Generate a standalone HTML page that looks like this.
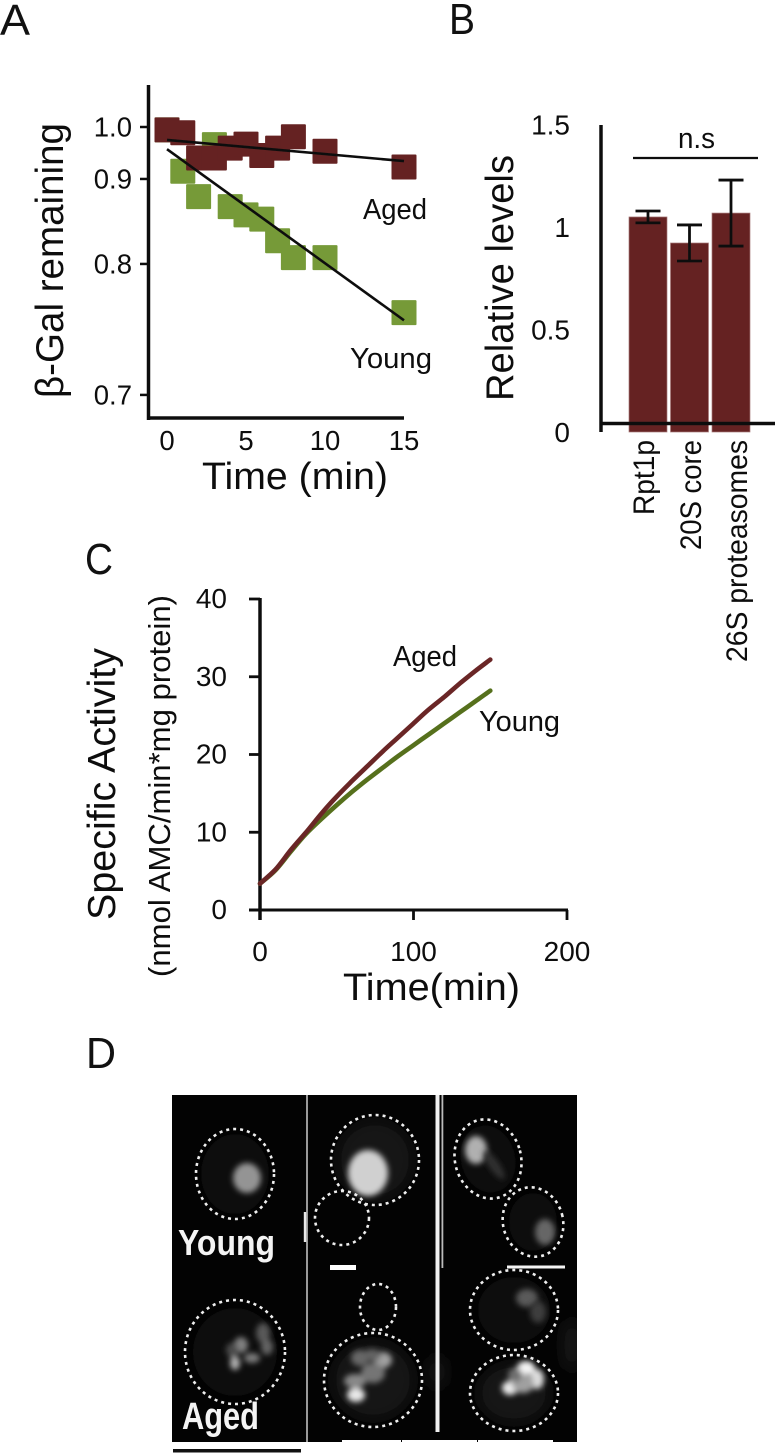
<!DOCTYPE html>
<html lang="en">
<head>
<meta charset="utf-8">
<title>Proteasome figure</title>
<style>
html,body{margin:0;padding:0;background:#fff;width:777px;height:1455px;overflow:hidden}
svg{display:block;position:absolute;left:0;top:0}
text{font-family:"Liberation Sans",sans-serif;fill:#111}
</style>
</head>
<body>
<svg id="figure" width="777" height="1455" viewBox="0 0 777 1455" xmlns="http://www.w3.org/2000/svg">
<defs>
<filter id="b1" x="-100%" y="-100%" width="300%" height="300%"><feGaussianBlur stdDeviation="3"/></filter>
<filter id="b2" x="-50%" y="-50%" width="200%" height="200%"><feGaussianBlur stdDeviation="6"/></filter>
<filter id="b3" x="-150%" y="-100%" width="400%" height="300%"><feGaussianBlur stdDeviation="8"/></filter>
<filter id="soft" x="-5%" y="-5%" width="110%" height="110%"><feGaussianBlur stdDeviation="0.35"/></filter>
<clipPath id="imageClip"><rect x="172" y="1095" width="405" height="347"/></clipPath>
</defs>

<g font-size="44">
<text x="0" y="35" textLength="30" lengthAdjust="spacingAndGlyphs">A</text>
<text x="449" y="34" textLength="26" lengthAdjust="spacingAndGlyphs">B</text>
<text x="85" y="574" textLength="28" lengthAdjust="spacingAndGlyphs">C</text>
<text x="86" y="1068" textLength="30" lengthAdjust="spacingAndGlyphs">D</text>
</g>

<g id="chartA" filter="url(#soft)">
<text transform="translate(63,398) rotate(-90)" font-size="39" textLength="275" lengthAdjust="spacingAndGlyphs">β-Gal remaining</text>
<text x="202" y="489" font-size="38" textLength="186" lengthAdjust="spacingAndGlyphs">Time (min)</text>
<text x="363" y="219" font-size="29" textLength="64" lengthAdjust="spacingAndGlyphs">Aged</text>
<text x="350" y="368" font-size="29" textLength="82" lengthAdjust="spacingAndGlyphs">Young</text>
</g>

<g id="chartB" filter="url(#soft)">
<text transform="translate(513,401) rotate(-90)" font-size="39" textLength="246" lengthAdjust="spacingAndGlyphs">Relative levels</text>
<text x="678" y="148" font-size="29" textLength="37" lengthAdjust="spacingAndGlyphs">n.s</text>
<line x1="633" x2="758" y1="158" y2="158" stroke="#111" stroke-width="2.2"/>
</g>

<g id="chartC" filter="url(#soft)">
<text transform="translate(115,920) rotate(-90)" font-size="39" textLength="272" lengthAdjust="spacingAndGlyphs">Specific Activity</text>
<text transform="translate(170,977) rotate(-90)" font-size="31" textLength="382" lengthAdjust="spacingAndGlyphs">(nmol AMC/min*mg protein)</text>
<text x="343" y="1000" font-size="38" textLength="177" lengthAdjust="spacingAndGlyphs">Time(min)</text>
<text x="393" y="666" font-size="29" textLength="64" lengthAdjust="spacingAndGlyphs">Aged</text>
<text x="479" y="731" font-size="29" textLength="81" lengthAdjust="spacingAndGlyphs">Young</text>
</g>

<g id="panelD">
<rect x="172" y="1095" width="405" height="347" fill="#030303"/>
<g clip-path="url(#imageClip)">
<ellipse cx="572" cy="1345" rx="8" ry="26" fill="#1c1c1c" filter="url(#b3)"/>
<ellipse cx="437" cy="1372" rx="5" ry="16" fill="#262626" filter="url(#b3)"/>
</g>

<g>
<ellipse cx="235" cy="1174" rx="34" ry="40" fill="#0a0a0a" filter="url(#b2)"/>
<ellipse cx="247" cy="1178" rx="14" ry="15" fill="#949494" filter="url(#b1)"/>
<ellipse cx="235" cy="1174" rx="39" ry="45" fill="none" stroke="#eee" stroke-width="2.6" stroke-dasharray="3 4"/>
</g>
<g>
<ellipse cx="375" cy="1160" rx="38" ry="39" fill="#151515" filter="url(#b2)"/>
<ellipse cx="368" cy="1173" rx="20" ry="23" fill="#d0d0d0" filter="url(#b1)"/>
<ellipse cx="375" cy="1160" rx="44" ry="45" fill="none" stroke="#eee" stroke-width="2.6" stroke-dasharray="3 4"/>
</g>
<g>
<ellipse cx="342" cy="1218" rx="27" ry="27" fill="none" stroke="#eee" stroke-width="2.6" stroke-dasharray="3 4"/>
</g>
<g>
<ellipse cx="488" cy="1159" rx="27" ry="34" transform="rotate(-15 488 1159)" fill="#0e0e0e" filter="url(#b2)"/>
<ellipse cx="476" cy="1150" rx="11" ry="14" fill="#b0b0b0" filter="url(#b1)"/>
<ellipse cx="494" cy="1165" rx="5" ry="17" transform="rotate(-35 494 1165)" fill="#303030" filter="url(#b1)"/>
<ellipse cx="488" cy="1159" rx="33" ry="40" transform="rotate(-15 488 1159)" fill="none" stroke="#eee" stroke-width="2.6" stroke-dasharray="3 4"/>
</g>
<g>
<ellipse cx="533" cy="1222" rx="24" ry="29" fill="#0a0a0a" filter="url(#b2)"/>
<ellipse cx="545" cy="1232" rx="10" ry="13" fill="#666" filter="url(#b1)"/>
<ellipse cx="533" cy="1222" rx="30" ry="35" transform="rotate(-15 533 1222)" fill="none" stroke="#eee" stroke-width="2.6" stroke-dasharray="3 4"/>
</g>

<g>
<ellipse cx="235" cy="1352" rx="42" ry="44" fill="#0c0c0c" filter="url(#b2)"/>
<g filter="url(#b1)">
<ellipse cx="241" cy="1345" rx="7" ry="8" fill="#808080"/>
<ellipse cx="235" cy="1363" rx="5" ry="7" fill="#b0b0b0"/>
<ellipse cx="263" cy="1333" rx="7" ry="10" fill="#585858"/>
<ellipse cx="267" cy="1347" rx="6" ry="8" fill="#646464"/>
<ellipse cx="252" cy="1358" rx="8" ry="5" fill="#7c7c7c"/>
<ellipse cx="232" cy="1350" rx="6" ry="7" fill="#4c4c4c"/>
</g>
<ellipse cx="235" cy="1352" rx="50" ry="52" fill="none" stroke="#eee" stroke-width="2.6" stroke-dasharray="3 4"/>
</g>
<g>
<ellipse cx="378" cy="1307" rx="18" ry="23" fill="none" stroke="#eee" stroke-width="2.6" stroke-dasharray="3 4"/>
</g>
<g>
<ellipse cx="373" cy="1380" rx="41" ry="39" fill="#141414" filter="url(#b2)"/>
<g filter="url(#b1)">
<ellipse cx="356" cy="1395" rx="9" ry="7" fill="#e8e8e8"/>
<ellipse cx="383" cy="1360" rx="9" ry="8" fill="#a0a0a0"/>
<ellipse cx="360" cy="1358" rx="9" ry="8" fill="#686868"/>
<ellipse cx="355" cy="1381" rx="11" ry="7" fill="#888"/>
<ellipse cx="373" cy="1373" rx="12" ry="10" fill="#747474"/>
<ellipse cx="372" cy="1355" rx="9" ry="6" fill="#646464"/>
</g>
<ellipse cx="373" cy="1380" rx="49" ry="47" fill="none" stroke="#eee" stroke-width="2.6" stroke-dasharray="3 4"/>
</g>
<g>
<ellipse cx="514" cy="1310" rx="36" ry="33" fill="#0c0c0c" filter="url(#b2)"/>
<ellipse cx="527" cy="1298" rx="11" ry="9" fill="#5a5a5a" filter="url(#b1)"/>
<ellipse cx="538" cy="1312" rx="8" ry="11" fill="#3e3e3e" filter="url(#b1)"/>
<ellipse cx="514" cy="1310" rx="44" ry="40" fill="none" stroke="#eee" stroke-width="2.6" stroke-dasharray="3 4"/>
</g>
<g>
<ellipse cx="514" cy="1393" rx="36" ry="30" fill="#121212" filter="url(#b2)"/>
<g filter="url(#b1)">
<ellipse cx="526" cy="1368" rx="9" ry="7" fill="#f4f4f4"/>
<ellipse cx="510" cy="1388" rx="8" ry="7" fill="#ececec"/>
<ellipse cx="537" cy="1379" rx="7" ry="10" fill="#dcdcdc"/>
<ellipse cx="523" cy="1384" rx="11" ry="9" fill="#a0a0a0"/>
<ellipse cx="515" cy="1375" rx="7" ry="7" fill="#707070"/>
</g>
<ellipse cx="514" cy="1393" rx="44" ry="38" fill="none" stroke="#eee" stroke-width="2.6" stroke-dasharray="3 4"/>
</g>

<text x="178" y="1255" font-size="36" font-weight="bold" style="fill:#f4f4f4" textLength="97" lengthAdjust="spacingAndGlyphs">Young</text>
<text x="182" y="1429" font-size="38" font-weight="bold" style="fill:#f4f4f4" textLength="77" lengthAdjust="spacingAndGlyphs">Aged</text>

<g>
<rect x="306.2" y="1095" width="1.6" height="347" fill="#c0c0c0"/>
<rect x="303.8" y="1212" width="2.4" height="30" fill="#e8e8e8"/>
<rect x="435.5" y="1095" width="4" height="337" fill="#f0f0f0"/>
<rect x="441.5" y="1095" width="1.8" height="173" fill="#bbb"/>
</g>
<g>
<rect x="330" y="1265" width="26" height="5" fill="#fff"/>
<rect x="507" y="1265.500" width="58" height="3" fill="#f4f4f4"/>
<rect x="173" y="1449" width="128" height="3.500" fill="#111"/>
</g>
<g>
<rect x="342" y="1440" width="59" height="3" fill="#fff"/>
<rect x="402" y="1440" width="75" height="3" fill="#fff"/>
<rect x="478" y="1440" width="75" height="3" fill="#fff"/>
</g>
</g>
</svg>

<script>
const NS = 'http://www.w3.org/2000/svg';

// ---- Panel A data ----
const aTimes = [0, 1, 2, 3, 4, 5, 6, 7, 8, 10, 15];
const aAged = [0.993, 0.986, 0.9345, 0.9345, 0.953, 0.961, 0.939, 0.953, 0.977, 0.947, 0.919];
const aYoung = [0.993, 0.912, 0.875, 0.96, 0.862, 0.852, 0.847, 0.823, 0.806, 0.806, 0.758];
const aFitTimes = [0, 15];
const aAgedFit = [0.97, 0.929];
const aYoungFit = [0.951, 0.752];
const aXTicks = [0, 5, 10, 15];
const aYTicks = [1.0, 0.9, 0.8, 0.7];

// ---- Panel B data ----
const bCategories = ['Rpt1p', '20S core', '26S proteasomes'];
const bValues = [1.049, 0.922, 1.068];
const bErrHigh = [1.078, 1.01, 1.229];
const bErrLow = [1.02, 0.834, 0.907];
const bYTicks = [0, 0.5, 1, 1.5];

// ---- Panel C data ----
const cTimes = [0, 10, 20, 30, 40, 50, 60, 70, 80, 90, 100, 110, 120, 130, 140, 150];
const cAged = [3.4, 5.2, 7.7, 10.0, 12.4, 14.6, 16.6, 18.5, 20.4, 22.2, 24.0, 25.8, 27.4, 29.1, 30.7, 32.2];
const cYoung = [3.4, 5.1, 7.5, 9.8, 11.7, 13.5, 15.2, 16.8, 18.3, 19.8, 21.2, 22.6, 24.0, 25.4, 26.8, 28.2];
const cXTicks = [0, 100, 200];
const cYTicks = [0, 10, 20, 30, 40];

// ---- Axis functions ----
const axA = {
  x: t => 167 + t * 15.8,
  y: v => { const d = 1 - v; return 127 + 398 * d + 1000 * d * d + 2167 * d * d * d; }
};
const axB = { y: v => 432 - v * 205 };
const axC = { x: t => 260 + t * 1.535, y: v => 910 - v * 7.775 };

function mk(tag, parent, attrs, txt) {
  const el = document.createElementNS(NS, tag);
  for (const k in attrs) el.setAttribute(k, attrs[k]);
  if (txt !== undefined) el.textContent = txt;
  parent.appendChild(el);
  return el;
}

function smoothPath(xs, ys) {
  let d = 'M' + xs[0].toFixed(1) + ' ' + ys[0].toFixed(1);
  for (let i = 0; i < xs.length - 1; i++) {
    const a = Math.max(i - 1, 0), b = Math.min(i + 2, xs.length - 1);
    const c1x = xs[i] + (xs[i + 1] - xs[a]) / 6, c1y = ys[i] + (ys[i + 1] - ys[a]) / 6;
    const c2x = xs[i + 1] - (xs[b] - xs[i]) / 6, c2y = ys[i + 1] - (ys[b] - ys[i]) / 6;
    d += 'C' + c1x.toFixed(1) + ' ' + c1y.toFixed(1) + ' ' + c2x.toFixed(1) + ' ' + c2y.toFixed(1) + ' ' + xs[i + 1].toFixed(1) + ' ' + ys[i + 1].toFixed(1);
  }
  return d;
}

const RED = '#652424', GREEN = '#769a38', INK = '#111';

// ---- Panel A ----
(function () {
  const g = document.getElementById('chartA');
  let el = mk('line', g, { x1: 148.5, x2: 148.5, y1: 85, y2: 420, stroke: INK, 'stroke-width': 3.5 });
  
  
  el = mk('line', g, { x1: 148.5, x2: 404, y1: 418, y2: 418, stroke: INK, 'stroke-width': 3.5 });
  
  

  aYTicks.forEach(v => {
    const t = mk('line', g, { x1: 140, x2: 148, y1: axA.y(v), y2: axA.y(v), stroke: INK, 'stroke-width': 2.5 });
    
    
    const l = mk('text', g, { x: 132, y: axA.y(v) + 9.5, 'font-size': 27.5, 'text-anchor': 'end' }, v.toFixed(1));
    
    
  });
  aXTicks.forEach(v => {
    const l = mk('text', g, { x: axA.x(v), y: 450, 'font-size': 27.5, 'text-anchor': 'middle' }, String(v));
    
    
  });

  aTimes.forEach((t, i) => {
    const r = mk('rect', g, { x: axA.x(t) - 12.5, y: axA.y(aYoung[i]) - 12.5, width: 25, height: 25, rx: 1, fill: GREEN });
    
    
  });
  aTimes.forEach((t, i) => {
    const r = mk('rect', g, { x: axA.x(t) - 12.5, y: axA.y(aAged[i]) - 12.5, width: 25, height: 25, rx: 1, fill: RED });
    
    
  });

  el = mk('line', g, { x1: axA.x(aFitTimes[0]), x2: axA.x(aFitTimes[1]), y1: axA.y(aAgedFit[0]), y2: axA.y(aAgedFit[1]), stroke: INK, 'stroke-width': 2.6 });
  
  
  el = mk('line', g, { x1: axA.x(aFitTimes[0]), x2: axA.x(aFitTimes[1]), y1: axA.y(aYoungFit[0]), y2: axA.y(aYoungFit[1]), stroke: INK, 'stroke-width': 2.6 });
  
  
})();

// ---- Panel B ----
(function () {
  const g = document.getElementById('chartB');
  const barW = 38, firstLeft = 629, step = 41.5;
  const labelLengths = [75, 110, 222];
  const labelBaseOffset = [25, 30.500, 35];

  bValues.forEach((v, i) => {
    const left = firstLeft + i * step;
    const cx = left + barW / 2;
    const r = mk('rect', g, { x: left, y: axB.y(v), width: barW, height: axB.y(0) - axB.y(v), fill: RED, stroke: '#a87c7c', 'stroke-width': 0.7 });
    
    
    const e = mk('path', g, {
      d: 'M' + (cx - 12.5) + ' ' + axB.y(bErrHigh[i]) + 'H' + (cx + 12.5) +
         'M' + cx + ' ' + axB.y(bErrHigh[i]) + 'V' + axB.y(bErrLow[i]) +
         'M' + (cx - 12.5) + ' ' + axB.y(bErrLow[i]) + 'H' + (cx + 12.5),
      stroke: INK, 'stroke-width': 2.8, fill: 'none'
    });
    
    
    const bx = left + labelBaseOffset[i];
    const l = mk('text', g, {
      transform: 'translate(' + bx + ',' + (440 + labelLengths[i]) + ') rotate(-90)',
      'font-size': 30, textLength: labelLengths[i], lengthAdjust: 'spacingAndGlyphs'
    }, bCategories[i]);
    
    
  });

  let el = mk('line', g, { x1: 601, x2: 601, y1: 125, y2: 432, stroke: INK, 'stroke-width': 3.5 });
  
  
  el = mk('line', g, { x1: 601, x2: 775, y1: 423.500, y2: 423.500, stroke: INK, 'stroke-width': 3.5 });
  
  

  bYTicks.forEach(v => {
    const l = mk('text', g, { x: 570, y: axB.y(v) + 10, 'font-size': 28, 'text-anchor': 'end' }, String(v));
    
    
  });
})();

// ---- Panel C ----
(function () {
  const g = document.getElementById('chartC');
  let el = mk('line', g, { x1: 260, x2: 260, y1: axC.y(40) - 1, y2: 920, stroke: INK, 'stroke-width': 3.5 });
  
  
  el = mk('line', g, { x1: 249, x2: axC.x(200) + 1, y1: axC.y(0), y2: axC.y(0), stroke: INK, 'stroke-width': 3 });
  
  

  cYTicks.forEach(v => {
    const t = mk('line', g, { x1: 249, x2: 260, y1: axC.y(v), y2: axC.y(v), stroke: INK, 'stroke-width': 2.8 });
    
    
    const l = mk('text', g, { x: 227, y: axC.y(v) + 9, 'font-size': 28, 'text-anchor': 'end' }, String(v));
    
    
  });
  cXTicks.forEach(v => {
    const t = mk('line', g, { x1: axC.x(v), x2: axC.x(v), y1: axC.y(0), y2: 920, stroke: INK, 'stroke-width': 2.8 });
    
    
    const l = mk('text', g, { x: axC.x(v), y: 961, 'font-size': 28, 'text-anchor': 'middle' }, String(v));
    
    
  });

  const xs = cTimes.map(axC.x);
  el = mk('path', g, { d: smoothPath(xs, cYoung.map(axC.y)), fill: 'none', stroke: '#56701f', 'stroke-width': 4.6, 'stroke-linecap': 'round' });
  
  
  el = mk('path', g, { d: smoothPath(xs, cAged.map(axC.y)), fill: 'none', stroke: '#6b2526', 'stroke-width': 4.6, 'stroke-linecap': 'round' });
  
  
})();
</script>
</body>
</html>
